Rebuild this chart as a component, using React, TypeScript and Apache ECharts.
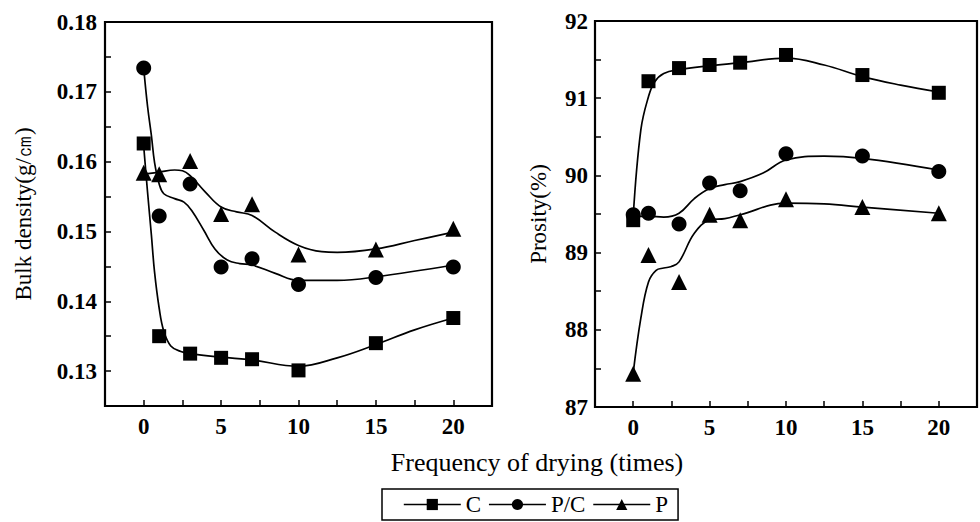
import React, { useEffect, useRef } from 'react';
import * as echarts from 'echarts';

// Measured points
const frequency = [0, 1, 3, 5, 7, 10, 15, 20];
const densityC = [0.1626, 0.135, 0.1325, 0.1319, 0.1317, 0.1301, 0.134, 0.1376];
const densityPC = [0.1734, 0.1522, 0.1568, 0.1449, 0.1461, 0.1424, 0.1434, 0.1449];
const densityP = [0.1584, 0.1582, 0.1601, 0.1525, 0.1539, 0.1467, 0.1474, 0.1504];
const porosityC = [89.42, 91.22, 91.39, 91.43, 91.46, 91.56, 91.3, 91.07];
const porosityPC = [89.49, 89.51, 89.37, 89.9, 89.8, 90.28, 90.25, 90.05];
const porosityP = [87.43, 88.97, 88.62, 89.49, 89.42, 89.69, 89.59, 89.51];

// Fitted curves
const densityCurveCX = [0, 0.25, 0.5, 0.7, 1, 1.3, 1.75, 2.4, 3, 5, 7, 10, 12.5, 15, 17.5, 20];
const densityCurveCY = [0.1622, 0.1556, 0.1494, 0.1442, 0.139, 0.1357, 0.1336, 0.1328, 0.1325, 0.132, 0.1316, 0.1307, 0.1319, 0.1338, 0.1359, 0.1376];
const densityCurvePCX = [0, 0.25, 0.5, 0.7, 1, 1.3, 2, 2.6, 3.1, 3.9, 4.6, 5.4, 6.2, 7, 8.5, 10, 12.5, 15, 20];
const densityCurvePCY = [0.1734, 0.1679, 0.1637, 0.1599, 0.1568, 0.1554, 0.1547, 0.1542, 0.153, 0.1501, 0.1475, 0.1459, 0.1454, 0.1452, 0.144, 0.143, 0.143, 0.1435, 0.1452];
const densityCurvePX = [0, 1, 2, 2.5, 3, 4, 5, 6, 7, 8.5, 10, 11.5, 12.5, 15, 17.5, 20];
const densityCurvePY = [0.1582, 0.1585, 0.1588, 0.1587, 0.158, 0.1556, 0.1535, 0.1528, 0.1523, 0.1499, 0.148, 0.1471, 0.147, 0.1475, 0.1487, 0.1499];

const porosityCurveCX = [0, 0.5, 1, 1.4, 2, 3, 5, 7, 10, 12.5, 15, 17.5, 20];
const porosityCurveCY = [89.47, 90.59, 91.02, 91.21, 91.32, 91.37, 91.42, 91.46, 91.52, 91.43, 91.28, 91.17, 91.08];
const porosityCurvePCX = [0, 1, 2, 3, 4, 5, 6, 7, 8.5, 10, 12.5, 15, 20];
const porosityCurvePCY = [89.47, 89.47, 89.46, 89.51, 89.7, 89.83, 89.88, 89.92, 90.03, 90.2, 90.25, 90.22, 90.07];
const porosityCurvePX = [0, 0.5, 1, 1.5, 2, 2.5, 3, 4, 5, 6, 7, 10, 12.5, 15, 20];
const porosityCurvePY = [87.44, 88.15, 88.62, 88.77, 88.8, 88.82, 88.88, 89.25, 89.42, 89.44, 89.49, 89.64, 89.63, 89.59, 89.51];

// Tick labels
const xTickLabels = [0, 5, 10, 15, 20];
const densityTickLabels = ['0.13', '0.14', '0.15', '0.16', '0.17', '0.18'];
const porosityTickLabels = ['87', '88', '89', '90', '91', '92'];

const seriesNames = ['C', 'P/C', 'P'];
const symbols = ['rect', 'circle', 'triangle'];
const symbolSizes = [14, 15, 16];

const FONT = '"Liberation Serif", "Times New Roman", serif';

const pair = (xs: number[], ys: number[]) => xs.map((x, i) => [x, ys[i]]);

export default function App() {
  const ref = useRef<HTMLDivElement>(null);

  useEffect(() => {
    if (!ref.current) return;
    const chart = echarts.init(ref.current, undefined, { renderer: 'svg' });

    const axisCommon = {
      type: 'value' as const,
      axisLine: { show: true, onZero: false, lineStyle: { color: '#000', width: 2 } },
      axisTick: { show: true, inside: true, length: 6, lineStyle: { color: '#000', width: 1.5 } },
      splitLine: { show: false },
    };
    const labelStyle = { color: '#000', fontFamily: FONT, fontSize: 23, fontWeight: 'bold' as const };

    const xAxisFor = (gridIndex: number) => ({
      ...axisCommon,
      gridIndex,
      min: -2.5,
      max: 22.5,
      interval: 2.5,
      axisLabel: {
        ...labelStyle,
        margin: 9,
        formatter: (v: number) => (xTickLabels.some((t) => Math.abs(t - v) < 1e-6) ? String(Math.round(v)) : ''),
      },
    });

    const densitySets = [densityC, densityPC, densityP];
    const porositySets = [porosityC, porosityPC, porosityP];
    const densityCurves = [
      [densityCurveCX, densityCurveCY],
      [densityCurvePCX, densityCurvePCY],
      [densityCurvePX, densityCurvePY],
    ];
    const porosityCurves = [
      [porosityCurveCX, porosityCurveCY],
      [porosityCurvePCX, porosityCurvePCY],
      [porosityCurvePX, porosityCurvePY],
    ];

    const series: any[] = [];
    seriesNames.forEach((name, i) => {
      series.push({
        name,
        type: 'line',
        xAxisIndex: 0,
        yAxisIndex: 0,
        data: pair(frequency, densitySets[i]),
        symbol: symbols[i],
        symbolSize: symbolSizes[i],
        showSymbol: true,
        itemStyle: { color: '#000' },
        lineStyle: { width: 0, color: '#000' },
        z: 5,
      });
    });
    seriesNames.forEach((name, i) => {
      series.push({
        name,
        type: 'line',
        xAxisIndex: 1,
        yAxisIndex: 1,
        data: pair(frequency, porositySets[i]),
        symbol: symbols[i],
        symbolSize: symbolSizes[i],
        showSymbol: true,
        itemStyle: { color: '#000' },
        lineStyle: { width: 0, color: '#000' },
        z: 5,
      });
    });
    seriesNames.forEach((name, i) => {
      series.push({
        name: name + ' fit (density)',
        type: 'line',
        xAxisIndex: 0,
        yAxisIndex: 0,
        data: pair(densityCurves[i][0], densityCurves[i][1]),
        smooth: 0.4,
        showSymbol: false,
        silent: true,
        lineStyle: { width: 1.7, color: '#000' },
        itemStyle: { color: '#000' },
        z: 3,
      });
      series.push({
        name: name + ' fit (porosity)',
        type: 'line',
        xAxisIndex: 1,
        yAxisIndex: 1,
        data: pair(porosityCurves[i][0], porosityCurves[i][1]),
        smooth: 0.4,
        showSymbol: false,
        silent: true,
        lineStyle: { width: 1.7, color: '#000' },
        itemStyle: { color: '#000' },
        z: 3,
      });
    });

    chart.setOption({
      animation: false,
      backgroundColor: '#fff',
      grid: [
        { left: 105, right: 488, top: 22, bottom: 116, show: true, borderColor: '#000', borderWidth: 2.2, backgroundColor: 'transparent' },
        { left: 595, right: -6, top: 21, bottom: 115, show: true, borderColor: '#000', borderWidth: 2.2, backgroundColor: 'transparent' },
      ],
      xAxis: [xAxisFor(0), xAxisFor(1)],
      yAxis: [
        {
          ...axisCommon,
          gridIndex: 0,
          min: 0.125,
          max: 0.18,
          interval: 0.005,
          name: 'Bulk density(g/㎝)',
          nameLocation: 'middle',
          nameGap: 70,
          nameTextStyle: { ...labelStyle, fontWeight: 'normal' },
          axisLabel: {
            ...labelStyle,
            margin: 8,
            formatter: (v: number) => {
              const s = v.toFixed(2);
              return Math.abs(v * 100 - Math.round(v * 100)) < 1e-6 && densityTickLabels.includes(s) ? s : '';
            },
          },
        },
        {
          ...axisCommon,
          gridIndex: 1,
          min: 87,
          max: 92,
          interval: 0.5,
          name: 'Prosity(%)',
          nameLocation: 'middle',
          nameGap: 45,
          nameTextStyle: { ...labelStyle, fontWeight: 'normal' },
          axisLabel: {
            ...labelStyle,
            margin: 7,
            formatter: (v: number) => {
              const s = String(Math.round(v));
              return Math.abs(v - Math.round(v)) < 1e-6 && porosityTickLabels.includes(s) ? s : '';
            },
          },
        },
      ],
      legend: {
        data: seriesNames,
        left: 382,
        top: 489,
        orient: 'horizontal',
        itemWidth: 57,
        itemHeight: 14,
        itemGap: 7,
        padding: [4, 10, 4, 21],
        borderColor: '#000',
        borderWidth: 1.5,
        backgroundColor: '#fff',
        selectedMode: false,
        textStyle: { ...labelStyle, fontWeight: 'normal' },
        lineStyle: { width: 1.6, color: '#000', opacity: 1 },
        itemStyle: { color: '#000' },
      },
      graphic: [
        {
          type: 'text',
          x: 537,
          y: 462,
          style: {
            text: 'Frequency of drying (times)',
            fill: '#000',
            fontFamily: FONT,
            fontSize: 26,
            align: 'center',
            verticalAlign: 'middle',
            textAlign: 'center',
            textVerticalAlign: 'middle',
          },
        },
      ],
      series,
    });

    return () => chart.dispose();
  }, []);

  return (
    <div
      ref={ref}
      style={{ position: 'fixed', left: 0, top: 0, width: 980, height: 522, background: '#fff' }}
    />
  );
}
